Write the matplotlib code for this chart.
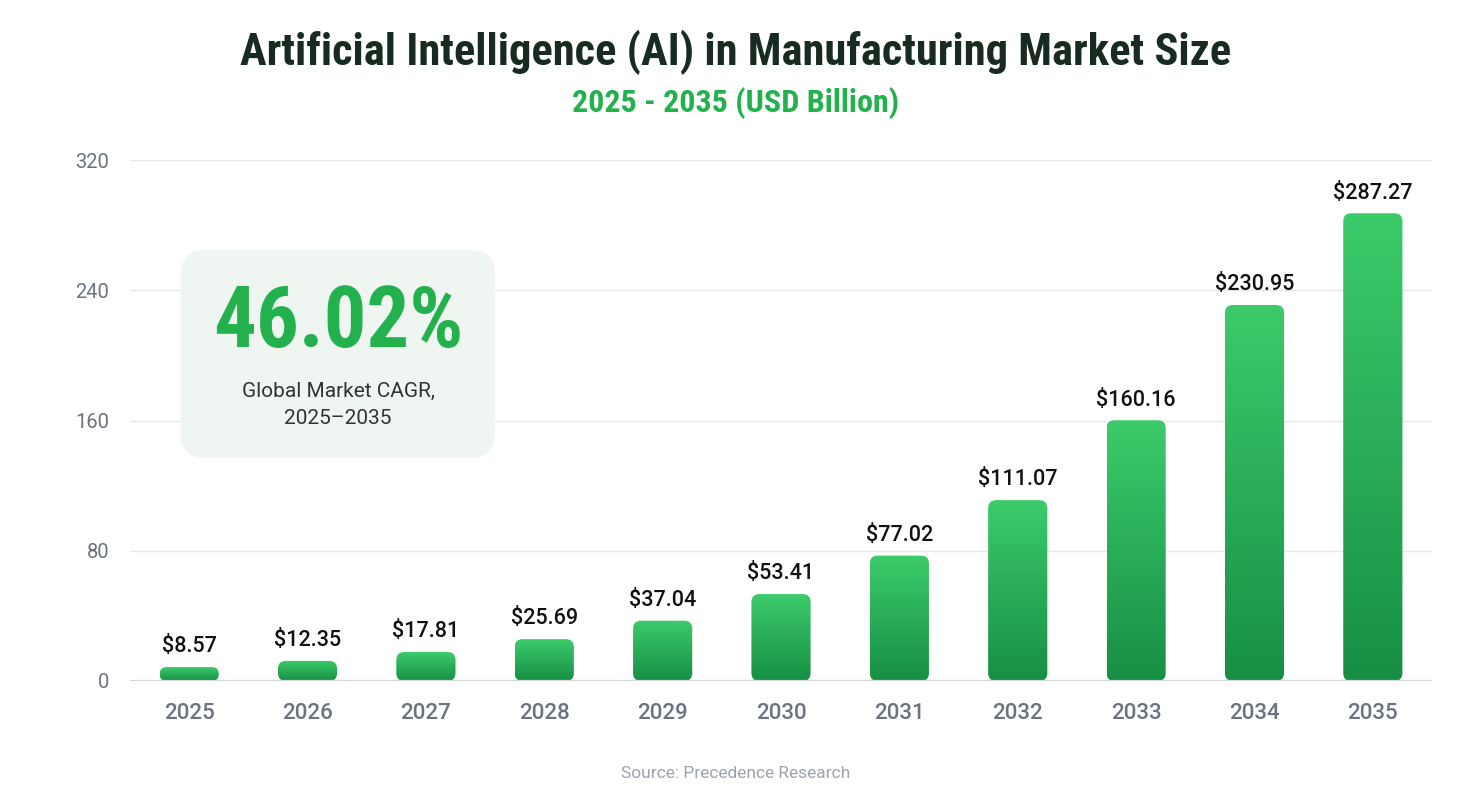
import numpy as np
import matplotlib.pyplot as plt
from matplotlib.patches import FancyBboxPatch
from matplotlib.colors import LinearSegmentedColormap
from matplotlib.transforms import IdentityTransform

years = ['2025', '2026', '2027', '2028', '2029', '2030',
         '2031', '2032', '2033', '2034', '2035']
values = [8.57, 12.35, 17.81, 25.69, 37.04, 53.41,
          77.02, 111.07, 160.16, 230.95, 287.27]
y_ticks = [0, 80, 160, 240, 320]

title = 'Artificial Intelligence (AI) in Manufacturing Market Size'
subtitle = '2025 - 2035 (USD Billion)'
cagr = '46.02%'
cagr_text = 'Global Market CAGR,\n2025\u20132035'
source = 'Source: Precedence Research'

plt.rcParams['font.family'] = ['Roboto', 'DejaVu Sans']
cond = ['Roboto Condensed', 'Roboto', 'DejaVu Sans']

W, H = 1472, 802
fig = plt.figure(figsize=(W / 100, H / 100), dpi=100)
ax = fig.add_axes([130 / W, 121 / H, 1302 / W, 521 / H])

ppx = 1302 / 11   # pixels per x unit
ppy = 521 / 320   # pixels per y unit

cmap = LinearSegmentedColormap.from_list('g', ['#178f44', '#3ccb6b'])
grad = np.linspace(0, 1, 256).reshape(-1, 1)
bw = 0.5

for i, v in enumerate(values):
    r_px = min(8, v * ppy / 2)
    patch = FancyBboxPatch((i - bw / 2, 0), bw, v,
                           boxstyle=f'round,pad=0,rounding_size={r_px / ppx}',
                           mutation_aspect=ppx / ppy, fc='none', ec='none')
    ax.add_patch(patch)
    im = ax.imshow(grad, extent=(i - bw / 2, i + bw / 2, 0, v), origin='lower',
                   cmap=cmap, aspect='auto', zorder=2)
    im.set_clip_path(patch)
    ax.annotate(f'${v:.2f}', (i, v), xytext=(0, 7), textcoords='offset points',
                ha='center', va='bottom', fontsize=15.5, color='#111111',
                fontweight='medium', annotation_clip=False)

ax.set_xlim(-0.5, 10.5)
ax.set_ylim(0, 320)
ax.set_xticks(range(len(years)))
ax.set_xticklabels(years, fontsize=16, color='#6b7280', fontweight='medium')
ax.set_yticks(y_ticks)
ax.set_yticklabels([str(t) for t in y_ticks], fontsize=14.5, color='#6b7280')
ax.tick_params(axis='both', length=0)
ax.tick_params(axis='x', pad=15.5)
ax.tick_params(axis='y', pad=15)
ax.grid(axis='y', color='#e6e8eb', lw=1, zorder=0)
ax.set_axisbelow(True)
for s in ax.spines.values():
    s.set_visible(False)
ax.axhline(0, color='#d2d7d7', lw=1.6, zorder=3)

# CAGR box
box = FancyBboxPatch((181, 344), 314, 208, boxstyle='round,pad=0,rounding_size=24',
                     transform=IdentityTransform(), fc='#eff5f1', ec='none', zorder=5)
fig.patches.append(box)
fig.text(338 / W, 1 - 324 / H, cagr, ha='center', va='center', fontsize=61,
         fontweight='black', color='#22b14c', family=cond, zorder=6)
fig.text(338 / W, 1 - 405 / H, cagr_text, ha='center', va='center', fontsize=15,
         color='#333333', linespacing=1.6, zorder=6)

fig.text(0.5, 1 - 52 / H, title, ha='center', va='center', fontsize=32,
         fontweight='black', color='#172b20', family=cond)
fig.text(0.5, 1 - 103 / H, subtitle, ha='center', va='center', fontsize=23,
         fontweight='bold', color='#22b14c', family=cond)
fig.text(0.5, 1 - 773 / H, source, ha='center', va='center', fontsize=12.5,
         color='#9ca3af')

fig.savefig('out.png', dpi=100)
